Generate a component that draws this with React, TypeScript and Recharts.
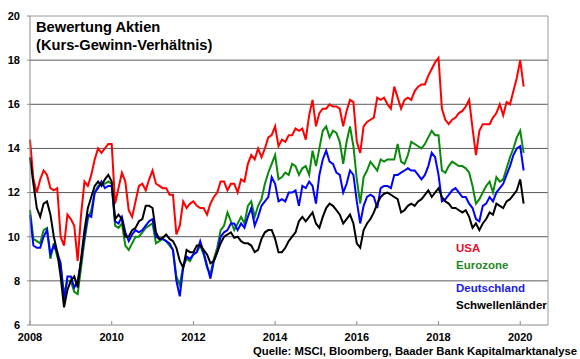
import React from "react";
import {
  LineChart,
  Line,
  XAxis,
  YAxis,
  CartesianGrid,
  ReferenceLine,
} from "recharts";

// monthly values, Jan 2008 .. Feb 2020
const usa = [
  14.4, 12.6, 12.0, 12.6, 13.0, 12.8, 12.2, 12.1, 12.2, 10.0, 9.6, 11.0,
  10.8, 10.5, 8.9, 11.0, 12.5, 12.3, 12.8, 13.5, 14.0, 13.8, 14.0, 14.2,
  14.2, 11.5, 12.2, 12.9, 12.5, 11.2, 10.9, 11.6, 12.3, 12.4, 12.1, 12.6,
  13.0, 12.4, 12.3, 12.2, 12.2, 11.9, 11.9, 10.1, 10.5, 11.6, 11.3, 11.5,
  11.6, 11.4, 11.3, 11.3, 11.0, 11.5, 11.8, 12.0, 12.5, 12.5, 12.1, 12.4,
  12.4, 12.0, 12.6, 12.5, 13.3, 13.7, 13.5, 14.0, 13.6, 14.0, 14.5, 14.6,
  15.0, 14.1, 14.4, 14.3, 14.6, 14.6, 14.9, 14.8, 14.9, 14.4, 15.5, 16.2,
  15.0, 15.6, 15.8, 15.8, 16.0, 15.9, 15.9, 15.8, 15.0, 15.7, 16.2, 16.1,
  14.3, 13.8, 15.0, 15.2, 15.3, 15.4, 16.3, 16.2, 16.3, 16.0, 15.8, 16.8,
  16.3, 15.8, 16.2, 16.3, 16.2, 16.6, 16.8, 16.9, 16.9, 17.3, 17.6, 17.9,
  18.1, 15.8, 15.3, 15.1, 15.3, 15.4, 15.6, 15.7, 15.9, 16.2, 14.9, 13.7,
  14.8, 15.1, 15.1, 15.1, 15.4, 15.6, 16.0, 15.5, 16.1, 16.0, 16.6, 17.2,
  18.0, 16.8,
];

const eurozone = [
  11.2, 9.9, 9.8, 9.7, 10.3, 10.4, 9.0, 9.7, 9.1, 8.7, 7.4, 8.0,
  8.0, 7.5, 7.4, 8.6, 9.8, 10.8, 11.2, 12.0, 12.3, 12.4, 12.4, 12.5,
  12.4, 10.5, 10.4, 10.6, 9.6, 9.4, 9.7, 10.0, 10.0, 10.2, 10.4, 10.5,
  10.6, 9.7, 9.8, 9.9, 9.8, 9.6, 9.4, 8.2, 7.8, 8.7, 9.0, 8.9,
  9.2, 9.3, 9.6, 9.2, 8.6, 8.3, 9.0, 9.5, 10.3, 10.5, 11.1, 10.7,
  10.3, 10.6, 10.9, 10.6, 11.4, 11.6, 10.9, 11.4, 11.7, 12.4, 12.9, 13.3,
  13.7, 12.6, 12.7, 12.9, 12.8, 13.3, 13.2, 12.8, 13.1, 13.2, 12.8, 13.9,
  13.2, 14.0, 14.8, 15.0, 14.5, 14.8, 14.7, 14.3, 13.3, 14.3, 15.0, 14.1,
  12.6, 11.5, 12.7, 13.0, 13.4, 13.2, 13.0, 13.5, 13.4, 13.5, 13.5, 13.5,
  14.2, 13.4, 13.3, 13.7, 14.3, 14.2, 14.1, 14.0, 14.2, 14.5, 14.8, 14.6,
  14.6, 13.0, 12.9, 13.2, 13.4, 13.3, 13.2, 13.2, 13.1, 12.9, 12.3, 11.5,
  11.7, 12.0, 12.3, 12.5, 12.0, 12.7, 12.5, 12.6, 13.1, 13.6, 14.0, 14.5,
  14.8, 13.8,
];

const deutschland = [
  11.0, 9.6, 9.5, 9.5, 10.0, 10.3, 9.2, 9.6, 9.3, 8.8, 7.1, 8.2,
  8.2, 7.7, 8.0, 8.9, 10.0, 11.0, 10.9, 12.0, 12.2, 12.5, 12.2, 12.3,
  12.3, 10.7, 10.6, 10.9, 10.2, 9.8, 10.1, 10.3, 10.2, 10.3, 10.5, 10.7,
  10.8, 10.0, 9.9, 9.9, 9.8, 9.7, 9.4, 8.0, 7.3, 8.6, 9.1, 9.0,
  9.2, 9.3, 9.8, 9.3, 8.7, 8.1, 8.9, 9.3, 10.0, 10.2, 10.3, 10.6,
  10.6, 10.3, 10.6, 10.4, 10.9, 11.3, 10.5, 10.9, 11.4, 11.6, 11.8, 12.7,
  12.4, 11.6, 11.7, 11.6, 12.0, 12.0, 12.1, 11.4, 12.3, 12.2, 12.5, 12.3,
  11.5, 12.8, 13.5, 13.9, 13.4, 13.3, 12.9, 12.8, 12.0, 12.4, 13.0, 12.8,
  11.6, 10.6, 11.4, 11.8, 11.9, 11.8, 11.3, 12.2, 12.3, 12.3, 12.2, 12.8,
  12.8, 12.9, 13.0, 13.1, 13.0, 13.0, 12.8, 12.6, 12.8, 13.2, 13.8, 13.6,
  12.8, 11.6, 11.7, 11.9, 12.1, 12.2, 12.0, 11.8, 11.8, 11.5, 11.3, 10.8,
  10.7, 11.4, 11.5, 11.8, 11.6, 12.0, 12.2, 12.4, 12.8, 13.2, 13.7, 14.0,
  14.1, 13.0,
];

const schwellenlaender = [
  13.6, 12.4, 11.3, 10.9, 11.5, 11.6, 11.0, 10.0, 9.3, 8.2, 6.8, 7.6,
  8.0, 8.2, 7.7, 9.0, 10.3, 11.3, 11.8, 12.3, 12.5, 12.3, 12.6, 12.8,
  12.5, 10.8, 11.0, 10.8, 10.0, 10.0, 10.3, 10.4, 10.7, 10.8, 11.4, 11.4,
  11.3, 10.2, 9.9, 9.95, 10.1, 9.9, 9.8, 9.5, 8.9, 8.6, 9.4, 9.3,
  9.3, 9.6, 9.6, 9.4, 9.2, 8.8, 8.9, 9.3, 9.7, 10.0, 10.1, 10.2,
  9.95, 10.0, 9.8, 9.7, 9.7, 9.6, 9.3, 9.4, 9.9, 10.2, 10.3, 10.3,
  9.9, 9.3, 9.3, 9.5, 9.8, 10.0, 10.2, 10.7, 10.9, 10.7, 10.9, 11.1,
  10.6, 10.4, 10.9, 11.3, 11.5, 11.4, 11.2, 11.0, 10.6, 10.8, 11.0, 10.6,
  9.7, 9.5, 10.3, 10.6, 10.8, 11.1, 11.5, 11.8, 11.95, 12.0, 11.9, 11.8,
  11.7, 11.1, 11.2, 11.4, 11.5, 11.4, 11.6, 11.7, 11.9, 12.1, 11.8, 12.0,
  12.2, 11.8, 11.6, 11.5, 11.3, 11.3, 11.2, 11.1, 11.2, 10.9, 10.4, 10.6,
  10.3, 10.6, 10.8, 11.1, 11.0, 11.5, 11.4, 11.3, 11.6, 11.7, 11.9, 12.1,
  12.6, 11.5,
];

const xTicks = [2008, 2010, 2012, 2014, 2016, 2018, 2020];
const yTicks = [6, 8, 10, 12, 14, 16, 18, 20];
const gridValues = [8, 10, 12, 14, 16, 18];
const xMax = 2020.68;

const legend = [
  { name: "USA", color: "#e8112d", top: 241.5 },
  { name: "Eurozone", color: "#1f8a1f", top: 258.5 },
  { name: "Deutschland", color: "#1a1ae6", top: 281.5 },
  { name: "Schwellenländer", color: "#000000", top: 299 },
];

const data = usa.map((v, i) => ({
  t: 2008 + i / 12,
  usa: v,
  eurozone: eurozone[i],
  deutschland: deutschland[i],
  schwellenlaender: schwellenlaender[i],
}));

const font = "'Liberation Sans', Arial, sans-serif";
const tickStyle = { fontSize: 11, fontWeight: 700, fill: "#000", fontFamily: font };

export default function App() {
  return (
    <div
      style={{
        position: "absolute",
        left: 0,
        top: 0,
        width: 580,
        height: 359,
        background: "#fff",
        fontFamily: font,
      }}
    >
      <LineChart
        width={580}
        height={359}
        data={data}
        margin={{ top: 16, right: 32, bottom: 14, left: 0 }}
      >
        <CartesianGrid
          vertical={false}
          horizontalValues={gridValues}
          stroke="#5a5a5a"
          strokeWidth={1}
        />
        <XAxis
          dataKey="t"
          type="number"
          domain={[2008, xMax]}
          ticks={xTicks}
          interval={0}
          height={20}
          tick={tickStyle}
          tickSize={-4}
          tickMargin={12}
          stroke="#8c8c8c"
          axisLine={{ stroke: "#8c8c8c" }}
          tickLine={{ stroke: "#8c8c8c" }}
        />
        <YAxis
          type="number"
          domain={[6, 20]}
          ticks={yTicks}
          interval={0}
          width={30}
          tick={tickStyle}
          tickSize={3}
          tickMargin={7}
          axisLine={{ stroke: "#8c8c8c" }}
          tickLine={{ stroke: "#8c8c8c" }}
        />
        <ReferenceLine y={20} stroke="#9a9a9a" />
        <ReferenceLine x={xMax} stroke="#9a9a9a" />
        <Line
          dataKey="usa"
          stroke="#ff0000"
          strokeWidth={2}
          dot={false}
          isAnimationActive={false}
        />
        <Line
          dataKey="eurozone"
          stroke="#0a8a0a"
          strokeWidth={2}
          dot={false}
          isAnimationActive={false}
        />
        <Line
          dataKey="deutschland"
          stroke="#0000ff"
          strokeWidth={2}
          dot={false}
          isAnimationActive={false}
        />
        <Line
          dataKey="schwellenlaender"
          stroke="#000000"
          strokeWidth={2}
          dot={false}
          isAnimationActive={false}
        />
      </LineChart>

      <div
        style={{
          position: "absolute",
          left: 36,
          top: 18,
          fontSize: 14.7,
          fontWeight: 700,
          lineHeight: "18px",
          color: "#000",
        }}
      >
        Bewertung Aktien
        <br />
        (Kurs-Gewinn-Verhältnis)
      </div>

      {legend.map((l) => (
        <div
          key={l.name}
          style={{
            position: "absolute",
            left: 456,
            top: l.top,
            fontSize: 11.5,
            fontWeight: 700,
            lineHeight: "12px",
            color: l.color,
            whiteSpace: "nowrap",
          }}
        >
          {l.name}
        </div>
      ))}

      <div
        style={{
          position: "absolute",
          right: 3,
          top: 345,
          fontSize: 11.3,
          fontWeight: 700,
          lineHeight: "12px",
          color: "#000",
          whiteSpace: "nowrap",
        }}
      >
        Quelle: MSCI, Bloomberg, Baader Bank Kapitalmarktanalyse
      </div>
    </div>
  );
}
